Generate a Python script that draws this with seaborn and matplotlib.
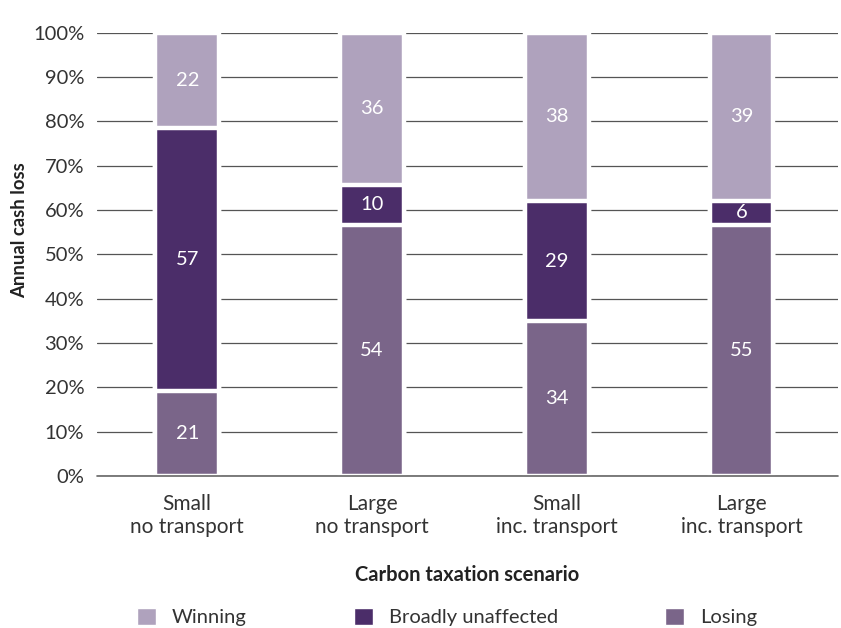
import matplotlib
matplotlib.use('Agg')
import matplotlib.pyplot as plt
import seaborn as sns
import pandas as pd
from matplotlib.patches import Patch

# scenario names (two-line tick labels)
scenarios = ['Small\nno transport', 'Large\nno transport',
             'Small\ninc. transport', 'Large\ninc. transport']

# shares as drawn (percent of households), bottom to top
losing = [19.2, 56.7, 34.9, 56.7]
unaffected = [59.4, 8.9, 27.1, 5.3]
winning = [21.4, 34.4, 38.0, 38.0]

# numbers printed on the segments
losing_lbl = [21, 54, 34, 55]
unaffected_lbl = [57, 10, 29, 6]
winning_lbl = [22, 36, 38, 39]

c_win = '#AFA2BD'
c_mid = '#4B2D69'
c_lose = '#7A6589'

df = pd.DataFrame({'scenario': scenarios, 'losing': losing,
                   'unaffected': unaffected, 'winning': winning})
df['cum1'] = df['losing']
df['cum2'] = df['cum1'] + df['unaffected']
df['cum3'] = df['cum2'] + df['winning']

sns.set_style('white')
plt.rcParams['font.family'] = ['Lato', 'DejaVu Sans']

fig = plt.figure(figsize=(8.41, 6.28), dpi=100)
ax = fig.add_axes([0.115, 0.242, 0.881, 0.706])

for ycol, col in [('cum3', c_win), ('cum2', c_mid), ('cum1', c_lose)]:
    sns.barplot(data=df, x='scenario', y=ycol, color=col, width=0.345,
                edgecolor='white', linewidth=3.2, saturation=1, ax=ax, zorder=3)

# segment labels
for i in range(len(scenarios)):
    segs = [(0, df['cum1'][i], losing_lbl[i]),
            (df['cum1'][i], df['cum2'][i], unaffected_lbl[i]),
            (df['cum2'][i], df['cum3'][i], winning_lbl[i])]
    for lo, hi, lab in segs:
        ax.text(i, (lo + hi) / 2, str(lab), ha='center', va='center',
                color='white', fontsize=14.5, zorder=4)

ax.set_ylim(0, 100)
ax.set_xlim(-0.49, 3.52)
ax.set_yticks(range(0, 101, 10))
ax.set_yticklabels([f'{v}%' for v in range(0, 101, 10)])
ax.yaxis.grid(True, color='#555555', linewidth=0.9, zorder=0)
ax.axhline(0, color='#666666', linewidth=1.2, zorder=5, clip_on=False)
ax.set_axisbelow(True)
for s in ax.spines.values():
    s.set_visible(False)
ax.tick_params(axis='y', length=0, pad=9, labelsize=14.5, labelcolor='#333333')
ax.tick_params(axis='x', length=0, pad=13, labelsize=15, labelcolor='#333333')

ax.set_xlabel('Carbon taxation scenario', fontsize=14.5, fontweight='bold',
              color='#222222', labelpad=20)
ax.set_ylabel('Annual cash loss', fontsize=13.3, fontweight='bold', color='#222222')
ax.yaxis.set_label_coords(-0.092, 0.555)

handles = [Patch(facecolor=c_win, label='Winning'),
           Patch(facecolor=c_mid, label='Broadly unaffected'),
           Patch(facecolor=c_lose, label='Losing')]
fig.legend(handles=handles, loc='center', bbox_to_anchor=(447 / 841, 1 - 617 / 628),
           ncol=3, frameon=False, fontsize=14.5, handlelength=0.95, handleheight=0.95,
           handletextpad=0.8, columnspacing=5.3, labelcolor='#333333')

fig.savefig('out.png', dpi=100)
